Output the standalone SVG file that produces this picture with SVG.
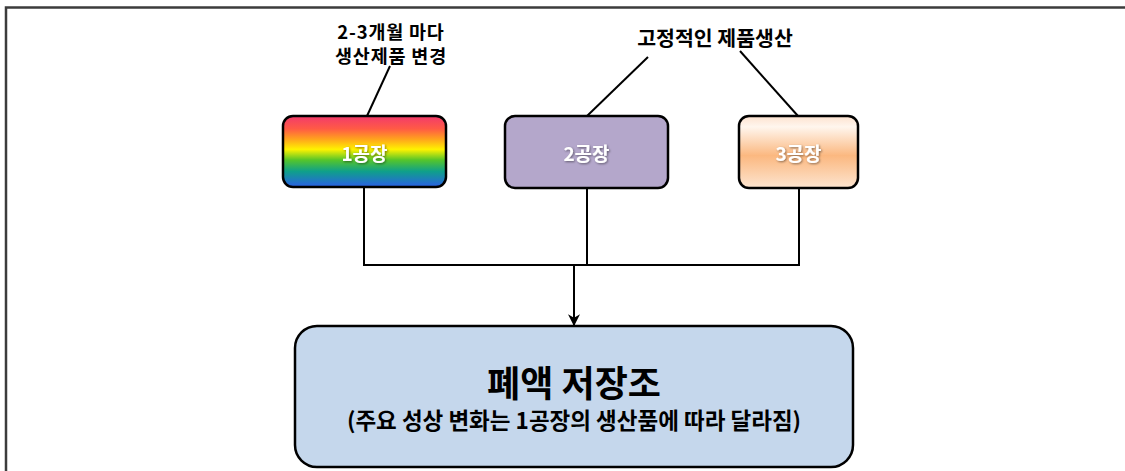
<svg xmlns="http://www.w3.org/2000/svg" width="1125" height="471" viewBox="0 0 1125 471">
  <defs>
    <linearGradient id="rainbow" x1="0" y1="0" x2="0" y2="1">
      <stop offset="0" stop-color="#f23a6c"/>
      <stop offset="0.18" stop-color="#ff5a45"/>
      <stop offset="0.33" stop-color="#ffa51c"/>
      <stop offset="0.47" stop-color="#fff200"/>
      <stop offset="0.62" stop-color="#55c52a"/>
      <stop offset="0.78" stop-color="#0fa08a"/>
      <stop offset="1" stop-color="#2a5fe6"/>
    </linearGradient>
    <linearGradient id="peach" x1="0" y1="0" x2="0" y2="1">
      <stop offset="0" stop-color="#fde2cf"/>
      <stop offset="0.15" stop-color="#fff6ee"/>
      <stop offset="0.55" stop-color="#fbb880"/>
      <stop offset="1" stop-color="#fde5d0"/>
    </linearGradient>
    <filter id="shadow" x="-20%" y="-30%" width="140%" height="160%">
      <feDropShadow dx="1" dy="1" stdDeviation="0.8" flood-color="#000" flood-opacity="0.45"/>
    </filter>
    <marker id="arrow" viewBox="0 0 10 10" refX="9" refY="5" markerWidth="6" markerHeight="6" orient="auto" markerUnits="strokeWidth">
      <path d="M0,0 L10,5 L0,10 L3,5 Z" fill="#000"/>
    </marker>
    <style>
      .frame { fill: none; stroke: #3c3c3c; stroke-width: 2.5; }
      .box { stroke: #000; stroke-width: 2.5; }
      .conn { fill: none; stroke: #000; stroke-width: 2; }
      .label { font-family: "Noto Sans CJK KR", "Noto Sans", sans-serif; font-weight: 700; fill: #000; text-anchor: middle; }
      .boxlabel { font-family: "Noto Sans CJK KR", "Noto Sans", sans-serif; font-weight: 700; fill: #fff; text-anchor: middle; font-size: 19px; }
    </style>
  </defs>

  <rect width="1125" height="471" fill="#fff"/>
  <path class="frame" d="M6,471 L6,7.5 L1125,7.5"/>

  <g id="connectors">
    <line class="conn" x1="367" y1="116" x2="390" y2="66"/>
    <line class="conn" x1="587" y1="116" x2="648" y2="57"/>
    <line class="conn" x1="798" y1="116" x2="740" y2="51"/>
    <path class="conn" d="M364,188 L364,265 L799,265 L799,188"/>
    <line class="conn" x1="587" y1="188" x2="587" y2="265"/>
    <line class="conn" x1="574" y1="265" x2="574" y2="325" marker-end="url(#arrow)"/>
  </g>

  <g id="note1">
    <text class="label" x="391" y="39" font-size="18.5" letter-spacing="0.8">2-3개월 마다</text>
    <text class="label" x="391" y="63" font-size="18.5" letter-spacing="0.8">생산제품 변경</text>
  </g>
  <g id="note2">
    <text class="label" x="715" y="46" font-size="20.5">고정적인 제품생산</text>
  </g>

  <g id="factory1">
    <rect class="box" x="283" y="116" width="163" height="71" rx="10" fill="url(#rainbow)"/>
    <text class="boxlabel" x="364.5" y="161" filter="url(#shadow)">1공장</text>
  </g>
  <g id="factory2">
    <rect class="box" x="505" y="116" width="163" height="72" rx="10" fill="#b4a7cb"/>
    <text class="boxlabel" x="586.5" y="161" filter="url(#shadow)">2공장</text>
  </g>
  <g id="factory3">
    <rect class="box" x="739" y="116" width="119" height="72" rx="10" fill="url(#peach)"/>
    <text class="boxlabel" x="798.5" y="161" filter="url(#shadow)">3공장</text>
  </g>

  <g id="storage">
    <rect class="box" x="295" y="326" width="558" height="141" rx="22" fill="#c5d7ec"/>
    <text class="label" x="574" y="397" font-size="36">폐액 저장조</text>
    <text class="label" x="574" y="429" font-size="22.5">(주요 성상 변화는 1공장의 생산품에 따라 달라짐)</text>
  </g>
</svg>
